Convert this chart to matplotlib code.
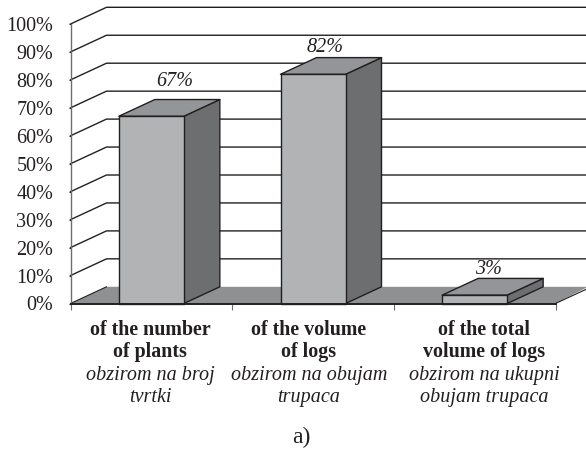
import matplotlib
matplotlib.use("Agg")
import matplotlib.pyplot as plt
from matplotlib.patches import Polygon

plt.rcParams['font.family'] = ['Liberation Serif', 'DejaVu Serif']

values = [67, 82, 3]
value_labels = ['67%', '82%', '3%']
yticks = [0, 10, 20, 30, 40, 50, 60, 70, 80, 90, 100]
labels_en = [['of the number', 'of plants'], ['of the volume', 'of logs'], ['of the total', 'volume of logs']]
labels_hr = [['obzirom na broj', 'tvrtki'], ['obzirom na obujam', 'trupaca'], ['obzirom na ukupni', 'obujam trupaca']]
caption = 'a)'

W, H = 586, 450
INK = '#231f20'
FRONT, TOP, SIDE, FLOOR = '#b1b3b5', '#939598', '#6d6e70', '#8f9092'

fig = plt.figure(figsize=(W / 100, H / 100), dpi=100)
x0, x1, y0, y1 = 70.5, 555.5, 303.5, 24
ax = fig.add_axes([x0 / W, 1 - y0 / H, (x1 - x0) / W, (y0 - y1) / H])
ax.set_xlim(0, 3)
ax.set_ylim(0, 100)
ux, uy = (x1 - x0) / 3, (y0 - y1) / 100
dx, dy = 36 / ux, 16.7 / uy
bw = 65 / ux
xright = (W + 2 - x0) / ux   # back wall runs off the right edge


def py(p):
    return (y0 - p) / uy


def px(p):
    return (p - x0) / ux


# back wall gridlines
for v in yticks[1:]:
    ax.plot([0, dx, xright], [v, v + dy, v + dy], color=INK, lw=1.0, clip_on=False, zorder=1, solid_joinstyle='miter')

# floor
ax.add_patch(Polygon([(0, 0), (dx, dy), (xright, dy), (3, 0)], closed=True, fc=FLOOR, ec='none', clip_on=False, zorder=2))
ax.plot([0, dx], [0, dy], color=INK, lw=0.8, clip_on=False, zorder=2.5)
ax.plot([3, xright], [0, (xright - 3) / dx * dy], color=INK, lw=0.8, clip_on=False, zorder=2.5)

# bars
label_px = [(175, 81), (325, 48), (488, 269)]
for i, (v, lab) in enumerate(zip(values, value_labels)):
    l = i + 0.5 - bw / 2
    r = l + bw
    kw = dict(closed=True, ec=INK, lw=1.0, clip_on=False, zorder=3, joinstyle='round')
    ax.add_patch(Polygon([(r, 0), (r + dx, dy), (r + dx, v + dy), (r, v)], fc=SIDE, **kw))
    ax.add_patch(Polygon([(l, v), (l + dx, v + dy), (r + dx, v + dy), (r, v)], fc=TOP, **kw))
    ax.add_patch(Polygon([(l, 0), (r, 0), (r, v), (l, v)], fc=FRONT, **kw))
    ax.text(px(label_px[i][0]), py(label_px[i][1]), lab, ha='center', va='center',
            style='italic', fontsize=14.5, color=INK, zorder=4)

# axes
for s in ('top', 'right'):
    ax.spines[s].set_visible(False)
ax.spines['left'].set_color('#6d6e70')
ax.spines['left'].set_linewidth(1.0)
ax.spines['left'].set_zorder(5)
ax.spines['bottom'].set_color(INK)
ax.spines['bottom'].set_linewidth(1.4)
ax.spines['bottom'].set_zorder(5)
ax.set_yticks(yticks)
ax.set_yticklabels([f'{v}%' for v in yticks], fontsize=14.5, color=INK)
ax.set_xticks([0, 1, 2, 3])
ax.set_xticklabels([])
ax.tick_params(axis='y', length=1.5, width=0.8, pad=11, color=INK)
ax.tick_params(axis='x', length=4, width=0.8, color='#6d6e70')
ax.patch.set_visible(False)

# category labels
rows = [330, 352.5, 375.5, 397.5]
centers = [150, 309, 484]
for i in range(3):
    cx = px(centers[i])
    for t, p in zip(labels_en[i], rows[:2]):
        ax.text(cx, py(p), t, ha='center', va='center', fontweight='bold', fontsize=14.4, color=INK, clip_on=False)
    for t, p in zip(labels_hr[i], rows[2:]):
        ax.text(cx, py(p), t, ha='center', va='center', style='italic', fontsize=14.5, color=INK, clip_on=False)
ax.text(px(301), py(437), caption, ha='center', va='center', fontsize=17, color=INK, clip_on=False)

fig.savefig('out.png', dpi=100)
